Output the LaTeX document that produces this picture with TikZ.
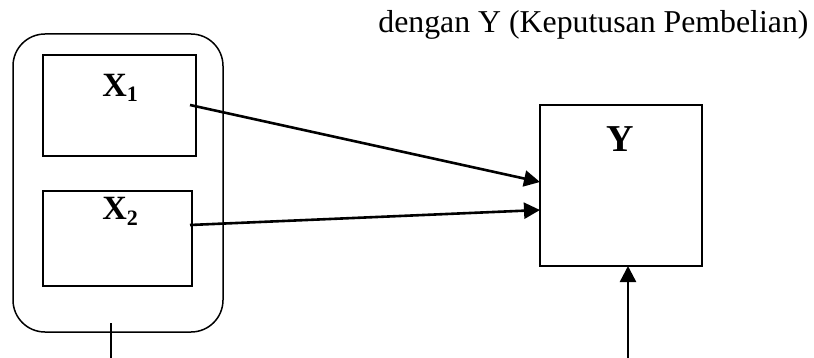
\documentclass[tikz,border=0pt]{standalone}
\usepackage{fontspec}
\setmainfont{Liberation Serif}
\usetikzlibrary{arrows.meta}
\begin{document}
\begin{tikzpicture}[x=0.5pt,y=-0.5pt,
  box/.style={draw,line width=0.8pt,inner sep=0pt,rectangle},
  conn/.style={line width=1.3pt,-{Triangle[length=8pt,width=8pt]}},
  lbl/.style={inner sep=0pt,font=\fontsize{17}{17}\selectfont\bfseries}]
\useasboundingbox (0,0) rectangle (814,358);
% caption text
\node[inner sep=0pt,anchor=base west,font=\fontsize{15.9}{16}\selectfont] (cap) at (378,33) {dengan Y (Keputusan Pembelian)};
% outer group
\node[box,rounded corners=16pt,line width=0.75pt,minimum width=105pt,minimum height=149pt] (grp) at (118,183) {};
% X1 and X2 boxes
\node[box,minimum width=76.5pt,minimum height=50.5pt] (x1) at (119.5,105.5) {};
\node[box,minimum width=74.5pt,minimum height=47.5pt] (x2) at (117.5,238.5) {};
% Y box
\node[box,minimum width=81pt,minimum height=80.5pt] (yb) at (621,185.5) {};
% labels
\node[lbl,anchor=base west] (x1l) at (102,97) {X\raisebox{-2.5pt}{\fontsize{11}{11}\selectfont 1}};
\node[lbl,anchor=base west] (x2l) at (102,220) {X\raisebox{-2.5pt}{\fontsize{11}{11}\selectfont 2}};
\node[inner sep=0pt,anchor=base,font=\fontsize{19}{19}\selectfont\bfseries] (yl) at (620,152) {Y};
% connector endpoints
\coordinate (s1) at (190,105);
\coordinate (t1) at (540,182);
\coordinate (s2) at (190,225);
\coordinate (t2) at (540,210);
\coordinate (b1) at (111,323);
\coordinate (b2) at (111,358);
\coordinate (b3) at (628,358);
\coordinate (b4) at (628,266);
% connectors
\draw[conn] (s1) -- (t1);
\draw[conn] (s2) -- (t2);
\draw[line width=0.75pt] (b1) -- (b2);
\draw[line width=1.2pt,-{Triangle[length=8pt,width=8pt]}] (b3) -- (b4);
\end{tikzpicture}
\end{document}
